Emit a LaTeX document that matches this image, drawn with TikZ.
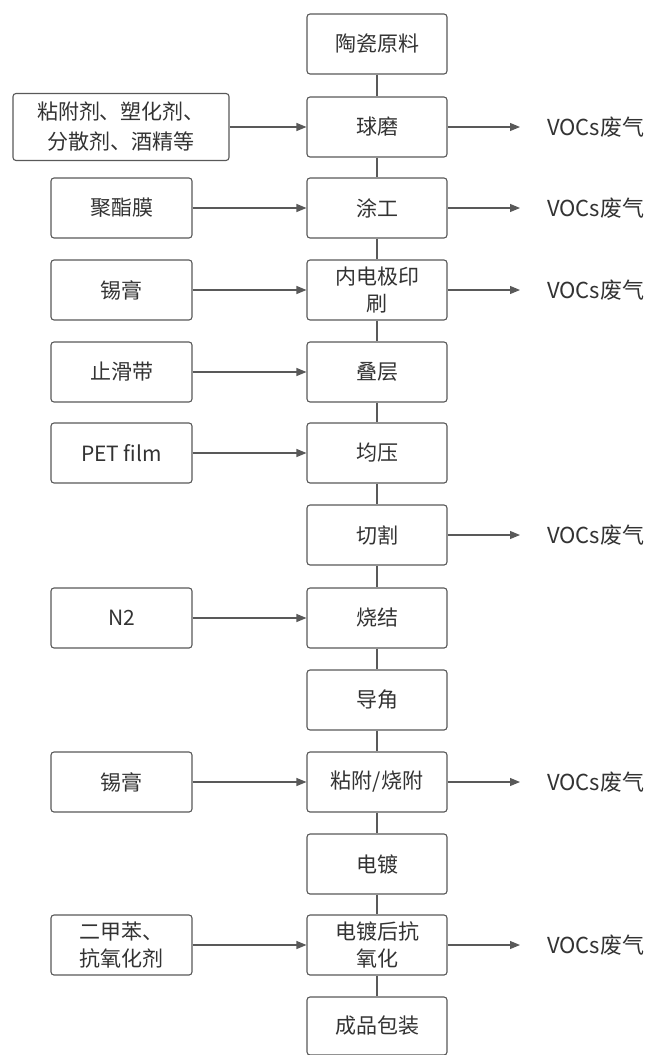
\documentclass[tikz,border=0pt]{standalone}
\usepackage{fontspec}
\setmainfont{Noto Sans CJK SC}
\usetikzlibrary{arrows.meta}
\definecolor{linecol}{HTML}{595959}
\definecolor{textcol}{HTML}{333333}
\begin{document}
\begin{tikzpicture}[x=1pt,y=-1pt,
  proc/.style={draw=linecol, line width=1.1pt, rounded corners=3pt, fill=white,
    minimum width=140pt, minimum height=60pt, inner sep=0pt, align=center,
    font=\fontsize{21}{27}\selectfont, text=textcol},
  side/.style={proc, minimum width=141pt},
  flow/.style={draw=linecol, line width=1.1pt},
  arr/.style={flow, -{Triangle[length=10pt,width=8pt]}},
  voc/.style={anchor=west, inner sep=0pt, font=\fontsize{22}{24}\selectfont, text=textcol}]
\useasboundingbox (0,0) rectangle (651,1055);
% main column
\node[proc] (p1)  at (377,44)   {陶瓷原料};
\node[proc] (p2)  at (377,127)  {球磨};
\node[proc] (p3)  at (377,208)  {涂工};
\node[proc] (p4)  at (377,290)  {内电极印\\刷};
\node[proc] (p5)  at (377,372)  {叠层};
\node[proc] (p6)  at (377,453)  {均压};
\node[proc] (p7)  at (377,535)  {切割};
\node[proc] (p8)  at (377,618)  {烧结};
\node[proc] (p9)  at (377,700)  {导角};
\node[proc] (p10) at (377,782)  {粘附/烧附};
\node[proc] (p11) at (377,864)  {电镀};
\node[proc] (p12) at (377,945)  {电镀后抗\\氧化};
\node[proc, minimum height=58pt] (p13) at (377,1026) {成品包装};
% side inputs
\node[side, minimum width=216pt, minimum height=67pt, font=\fontsize{21}{30}\selectfont] (l2) at (121,127) {粘附剂、塑化剂、\\分散剂、酒精等};
\node[side] (l3)  at (121.5,208) {聚酯膜};
\node[side] (l4)  at (121.5,290) {锡膏};
\node[side] (l5)  at (121.5,372) {止滑带};
\node[side] (l6)  at (121.5,453) {PET film};
\node[side] (l8)  at (121.5,618) {N2};
\node[side] (l10) at (121.5,782) {锡膏};
\node[side] (l12) at (121.5,945) {二甲苯、\\抗氧化剂};
% outputs
\node[voc] (v2)  at (547,127) {VOCs废气};
\node[voc] (v3)  at (547,208) {VOCs废气};
\node[voc] (v4)  at (547,290) {VOCs废气};
\node[voc] (v7)  at (547,535) {VOCs废气};
\node[voc] (v10) at (547,782) {VOCs废气};
\node[voc] (v12) at (547,945) {VOCs废气};
% vertical connectors
\foreach \a/\b in {p1/p2,p2/p3,p3/p4,p4/p5,p5/p6,p6/p7,p7/p8,p8/p9,p9/p10,p10/p11,p11/p12,p12/p13}
  \draw[flow] (\a) -- (\b);
% input arrows
\foreach \n in {2,3,4,5,6,8,10,12}
  \draw[arr] (l\n.east) -- (p\n.west);
% output arrows
\foreach \n in {2,3,4,7,10,12}
  \draw[arr, shorten >=27pt] (p\n.east) -- (v\n.west);
\end{tikzpicture}
\end{document}
